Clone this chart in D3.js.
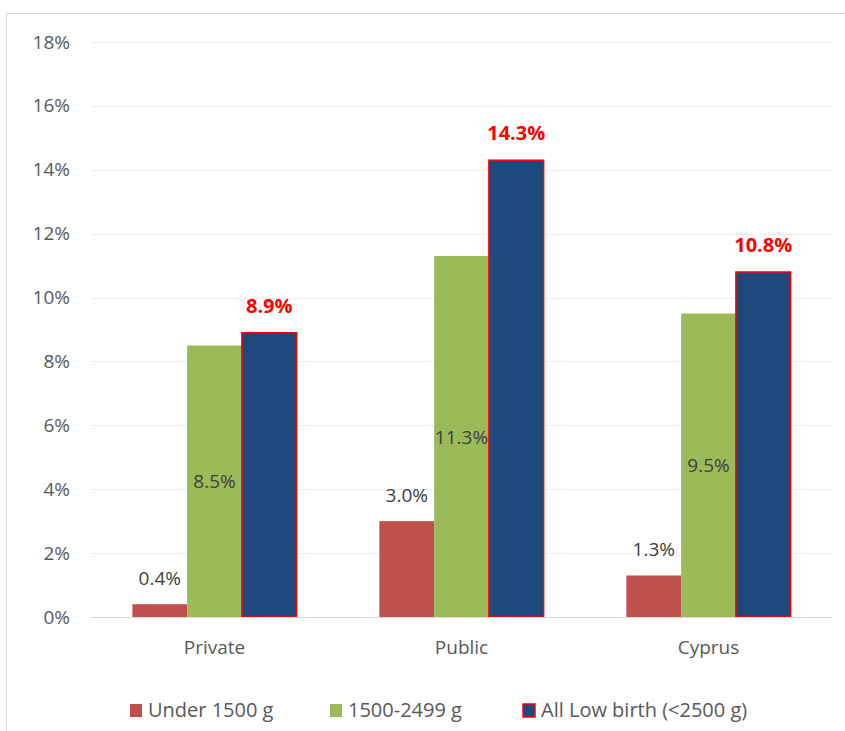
<!DOCTYPE html>
<html>
<head>
<meta charset="utf-8">
<script src="https://cdn.jsdelivr.net/npm/d3@7"></script>
<style>
  body { margin: 0; background: #fff; }
  text { font-family: "Open Sans", "Liberation Sans", sans-serif; }
</style>
</head>
<body>
<script>
var categories = ["Private", "Public", "Cyprus"];
var seriesNames = ["Under 1500 g", "1500-2499 g", "All Low birth (<2500 g)"];
var under1500 = [0.4, 3.0, 1.3];
var from1500to2499 = [8.5, 11.3, 9.5];
var allLowBirth = [8.9, 14.3, 10.8];
var yTicks = [0, 2, 4, 6, 8, 10, 12, 14, 16, 18];

var colors = ["#c0504d", "#9bbb59", "#1f497d"];
var seriesValues = [under1500, from1500to2499, allLowBirth];

var width = 845, height = 731;
var margin = { left: 91, right: 13, top: 42, bottom: 114 };

var svg = d3.select("body").append("svg")
    .attr("width", width)
    .attr("height", height);

// outer chart border
svg.append("rect")
    .attr("x", 6.5).attr("y", 13.5)
    .attr("width", width + 10).attr("height", height + 10)
    .attr("fill", "none")
    .attr("stroke", "#d9d9d9");

var x = d3.scaleBand()
    .domain(categories)
    .range([margin.left, width - margin.right])
    .paddingInner(0.335)
    .paddingOuter(0.1675);

var xs = d3.scaleBand()
    .domain(d3.range(3))
    .range([0, x.bandwidth()]);

var y = d3.scaleLinear()
    .domain([0, 18])
    .range([height - margin.bottom, margin.top]);

// gridlines
svg.append("g").selectAll("line")
    .data(yTicks.slice(1))
    .enter().append("line")
    .attr("x1", margin.left).attr("x2", width - margin.right)
    .attr("y1", function (d) { return Math.round(y(d)) + 0.5; })
    .attr("y2", function (d) { return Math.round(y(d)) + 0.5; })
    .attr("stroke", "#ededed");

// y axis labels
var yAxis = d3.axisLeft(y)
    .tickValues(yTicks)
    .tickFormat(function (d) { return d + "%"; })
    .tickSize(0)
    .tickPadding(21);

var yg = svg.append("g")
    .attr("transform", "translate(" + margin.left + ",0)")
    .call(yAxis);
yg.select(".domain").remove();
yg.selectAll("text")
    .attr("fill", "#595959")
    .style("font-size", "19px");

// bars
var groups = svg.append("g").selectAll("g")
    .data(categories)
    .enter().append("g")
    .attr("transform", function (d) { return "translate(" + x(d) + ",0)"; });

seriesValues.forEach(function (vals, s) {
    groups.append("rect")
        .attr("x", xs(s))
        .attr("y", function (d, i) { return y(vals[i]); })
        .attr("width", xs.bandwidth())
        .attr("height", function (d, i) { return y(0) - y(vals[i]); })
        .attr("fill", colors[s])
        .attr("stroke", s === 2 ? "#ff0000" : "none")
        .attr("stroke-width", 1.5);
});

// x axis line
svg.append("line")
    .attr("x1", margin.left).attr("x2", width - margin.right)
    .attr("y1", y(0) + 0.5).attr("y2", y(0) + 0.5)
    .attr("stroke", "#d9d9d9");

// x labels
var xAxis = d3.axisBottom(x).tickSize(0).tickPadding(24);
var xg = svg.append("g")
    .attr("transform", "translate(0," + y(0) + ")")
    .call(xAxis);
xg.select(".domain").remove();
xg.selectAll("text")
    .attr("fill", "#595959")
    .style("font-size", "19px");

// data labels
groups.append("text")
    .attr("x", xs(0) + xs.bandwidth() / 2)
    .attr("y", function (d, i) { return y(under1500[i]) - 19; })
    .attr("text-anchor", "middle")
    .attr("fill", "#404040")
    .style("font-size", "19px")
    .text(function (d, i) { return under1500[i].toFixed(1) + "%"; });

groups.append("text")
    .attr("x", xs(1) + xs.bandwidth() / 2)
    .attr("y", function (d, i) { return y(from1500to2499[i] / 2) + 7; })
    .attr("text-anchor", "middle")
    .attr("fill", "#404040")
    .style("font-size", "19px")
    .text(function (d, i) { return from1500to2499[i].toFixed(1) + "%"; });

groups.append("text")
    .attr("x", xs(2) + xs.bandwidth() / 2)
    .attr("y", function (d, i) { return y(allLowBirth[i]) - 20; })
    .attr("text-anchor", "middle")
    .attr("fill", "#ff0000")
    .style("font-size", "20px")
    .style("font-weight", "bold")
    .text(function (d, i) { return allLowBirth[i].toFixed(1) + "%"; });

// legend
var legendX = [130, 330, 523];
var legend = svg.append("g").selectAll("g")
    .data(seriesNames)
    .enter().append("g")
    .attr("transform", function (d, i) { return "translate(" + legendX[i] + ",704)"; });

legend.append("rect")
    .attr("width", 12).attr("height", 13)
    .attr("fill", function (d, i) { return colors[i]; })
    .attr("stroke", function (d, i) { return i === 2 ? "#ff0000" : "none"; })
    .attr("stroke-width", 1.5);

legend.append("text")
    .attr("x", 18).attr("y", 13)
    .attr("fill", "#595959")
    .style("font-size", "20px")
    .text(function (d) { return d; });
</script>
</body>
</html>
